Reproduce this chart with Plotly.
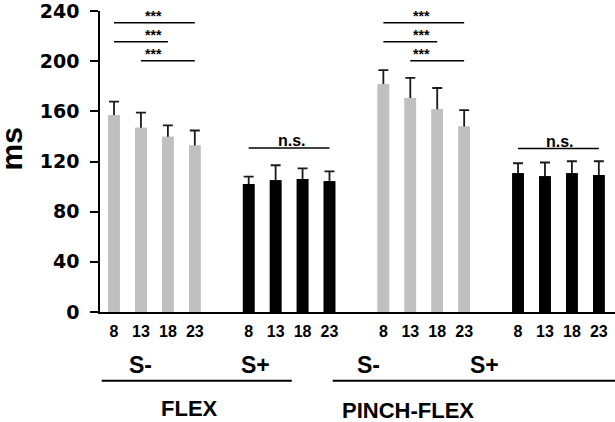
import plotly.graph_objects as go

# ---- data ----
tick_labels = ["8", "13", "18", "23"]
flex_sminus = [157, 147, 139.8, 132.7]
flex_sminus_err = [10.7, 12, 9, 12]
flex_splus = [102, 105, 106, 104.2]
flex_splus_err = [6, 12, 8.5, 8]
pinch_sminus = [181.8, 170.7, 161.6, 148]
pinch_sminus_err = [11, 16, 17, 13]
pinch_splus = [110.6, 108.2, 110.6, 109.2]
pinch_splus_err = [8, 11, 9.6, 11]

pos_flex_sminus = [0, 1, 2, 3]
pos_flex_splus = [5, 6, 7, 8]
pos_pinch_sminus = [10, 11, 12, 13]
pos_pinch_splus = [15, 16, 17, 18]

GRAY = "#c0c0c0"
BLACK = "#000000"
ERRC = "#1a1a1a"
BW = 0.43

groups = [
    (pos_flex_sminus, flex_sminus, flex_sminus_err, GRAY),
    (pos_flex_splus, flex_splus, flex_splus_err, BLACK),
    (pos_pinch_sminus, pinch_sminus, pinch_sminus_err, GRAY),
    (pos_pinch_splus, pinch_splus, pinch_splus_err, BLACK),
]

fig = go.Figure()
# bars carrying the (upper) error bars
for xs, ys, es, col in groups:
    fig.add_trace(go.Bar(
        x=xs, y=ys, width=BW, marker=dict(color=col, line=dict(width=0)),
        error_y=dict(type="data", symmetric=False, array=es,
                     arrayminus=[3] * len(es), color=ERRC, thickness=1.8, width=5),
        showlegend=False, hoverinfo="skip"))
# same bars drawn again on top to hide the lower part of the error bars
for xs, ys, es, col in groups:
    fig.add_trace(go.Bar(
        x=xs, y=ys, width=BW, marker=dict(color=col, line=dict(width=0)),
        showlegend=False, hoverinfo="skip"))

all_pos = pos_flex_sminus + pos_flex_splus + pos_pinch_sminus + pos_pinch_splus

fig.update_layout(
    width=615, height=422,
    margin=dict(l=100, r=0, t=11, b=110, autoexpand=False),
    plot_bgcolor="white", paper_bgcolor="white",
    barmode="overlay",
    font=dict(family="Arial, Liberation Sans", color="black"),
    xaxis=dict(range=[-0.52, 18.6], showgrid=False, zeroline=False,
               showline=True, linecolor="black", linewidth=1.5,
               tickvals=all_pos, ticktext=tick_labels * 4,
               ticks="outside", ticklen=4, tickcolor="rgba(0,0,0,0)",
               automargin=False, ticklabeloverflow="allow",
               tickfont=dict(size=16, family="Arial, Liberation Sans", weight="bold")),
    yaxis=dict(range=[0, 240], tickvals=[0, 40, 80, 120, 160, 200, 240],
               showgrid=False, zeroline=False, automargin=False,
               showline=True, linecolor="black", linewidth=1.5,
               ticks="outside", ticklen=8, tickwidth=1.5, tickcolor="black",
               ticklabelstandoff=7, ticklabeloverflow="allow",
               tickfont=dict(size=19, family="DejaVu Sans", weight="bold")),
)

shapes = []
annotations = []

# y-axis title
annotations.append(dict(xref="paper", yref="paper", x=-0.172, y=0.5415, text="ms",
                        textangle=-90, showarrow=False, xanchor="center", yanchor="middle",
                        font=dict(size=30, weight="bold")))

def sig(x0, x1, y, txt, xtxt, size):
    shapes.append(dict(type="line", xref="x", yref="y", x0=x0, x1=x1, y0=y, y1=y,
                       line=dict(color="black", width=1.5)))
    annotations.append(dict(xref="x", yref="y", x=xtxt, y=y, text=txt, showarrow=False,
                            yanchor="bottom", yshift=-3,
                            font=dict(size=size, weight="bold", color="black")))

# FLEX S- comparisons
sig(0, 3, 230.7, "***", 1.45, 14)
sig(0, 2, 215.5, "***", 1.45, 14)
sig(1, 3, 200.4, "***", 1.45, 14)
# PINCH S- comparisons
sig(10, 13, 230.7, "***", 11.43, 14)
sig(10, 12, 215.5, "***", 11.43, 14)
sig(11, 13, 200.4, "***", 11.43, 14)
# n.s.
sig(5, 8, 130.8, "n.s.", 6.6, 16)
sig(15, 18, 130.3, "n.s.", 16.55, 16)

# group labels below axis
for x, t in [(0.97, "S-"), (5.27, "S+"), (9.43, "S-"), (13.77, "S+")]:
    annotations.append(dict(xref="x", yref="paper", x=x, y=-0.176, text=t, showarrow=False,
                            yanchor="middle", font=dict(size=23, weight="bold")))
shapes.append(dict(type="line", xref="x", yref="paper", x0=-0.457, x1=6.60, y0=-0.228, y1=-0.228,
                   line=dict(color="black", width=2)))
shapes.append(dict(type="line", xref="x", yref="paper", x0=8.12, x1=18.6, y0=-0.228, y1=-0.228,
                   line=dict(color="black", width=2)))
annotations.append(dict(xref="x", yref="paper", x=2.82, y=-0.322, text="FLEX", showarrow=False,
                        yanchor="middle", font=dict(size=22, weight="bold")))
annotations.append(dict(xref="x", yref="paper", x=10.9, y=-0.328, text="PINCH-FLEX", showarrow=False,
                        yanchor="middle", font=dict(size=22, weight="bold")))

fig.update_layout(shapes=shapes, annotations=annotations)
fig.write_html("out.html", config={"displayModeBar": False},
               post_script="document.body.style.margin='0';")
